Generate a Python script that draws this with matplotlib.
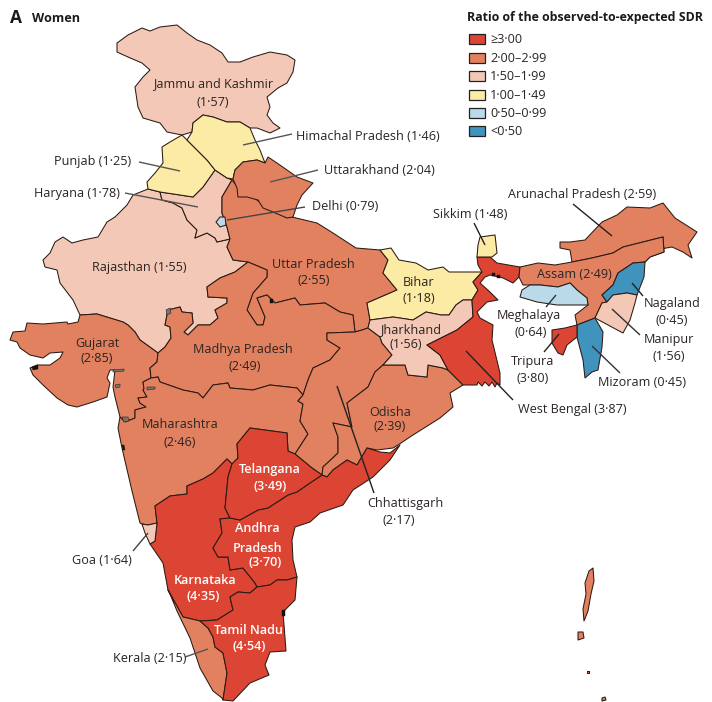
import matplotlib
matplotlib.use("Agg")
import matplotlib.pyplot as plt
from matplotlib.patches import Rectangle

plt.rcParams['font.family'] = ['Open Sans', 'DejaVu Sans']

# ---------- data ----------
legend_labels = ["≥3·00", "2·00–2·99", "1·50–1·99", "1·00–1·49", "0·50–0·99", "<0·50"]
legend_colors = ["#DC4433", "#E28160", "#F4C8B6", "#FBEBA4", "#BADAE9", "#3F93BD"]
thresholds = [3.0, 2.0, 1.5, 1.0, 0.5, 0.0]

values = {
    "Jammu and Kashmir": 1.57, "Himachal Pradesh": 1.46, "Punjab": 1.25, "Haryana": 1.78,
    "Rajasthan": 1.55, "Uttar Pradesh": 2.55, "Uttarakhand": 2.04, "Delhi": 0.79,
    "Gujarat": 2.85, "Madhya Pradesh": 2.49, "Maharashtra": 2.46, "Chhattisgarh": 2.17,
    "Odisha": 2.39, "Bihar": 1.18, "Jharkhand": 1.56, "West Bengal": 3.87, "Sikkim": 1.48,
    "Arunachal Pradesh": 2.59, "Assam": 2.49, "Meghalaya": 0.64, "Nagaland": 0.45,
    "Manipur": 1.56, "Mizoram": 0.45, "Tripura": 3.80, "Telangana": 3.49,
    "Andhra Pradesh": 3.70, "Karnataka": 4.35, "Tamil Nadu": 4.54, "Kerala": 2.15, "Goa": 1.64,
    "Andaman": 2.10,
}

jk = [(142,28),(150,31),(160,27),(177,25),(187,33),(197,40),(210,45),(222,53),(228,62),(240,62),(253,57),(270,52),(287,55),(295,60),(293,72),(287,83),(278,88),(267,97),(270,107),(267,115),(273,123),(280,128),(270,133),(257,128),(250,128),(240,122),(227,122),(213,117),(203,115),(193,123),(192,132),(182,135),(167,132),(160,123),(143,118),(138,107),(135,87),(143,77),(150,70),(142,63),(128,57),(117,52),(117,43),(128,35)]
hp = [(192,132),(187,140),(197,150),(207,160),(215,170),(227,178),(233,179),(235,170),(243,162),(257,160),(265,163),(260,150),(255,140),(250,128),(240,122),(227,122),(213,117),(203,115),(193,123)]
punjab = [(182,135),(170,142),(162,147),(163,163),(155,173),(147,182),(148,189),(160,192),(180,195),(193,197),(203,187),(215,170),(207,160),(197,150),(187,140)]
haryana = [(160,192),(162,200),(173,203),(182,208),(187,220),(197,230),(195,238),(207,233),(215,238),(217,242),(230,239),(227,227),(222,213),(222,197),(232,180),(227,178),(215,170),(203,187),(193,197),(180,195)]
delhi = [(216,222),(220,217),(225,217),(226,225),(220,227)]
rajasthan = [(133,195),(127,205),(115,217),(107,222),(98,237),(83,240),(72,243),(63,237),(55,242),(50,253),(43,260),(45,267),(57,270),(60,283),(73,300),(80,315),(97,314),(110,318),(123,322),(128,325),(135,332),(140,340),(147,345),(158,353),(165,347),(171,338),(170,327),(165,325),(168,310),(180,307),(182,312),(192,313),(193,323),(184,332),(188,335),(198,325),(210,325),(218,318),(215,310),(227,303),(227,298),(208,297),(207,287),(220,278),(235,272),(248,262),(233,260),(227,247),(230,239),(217,242),(215,238),(207,233),(195,238),(197,230),(187,220),(182,208),(173,203),(162,200),(160,192),(148,189)]
gujarat = [(10,340),(13,332),(25,331),(27,323),(43,324),(55,323),(67,322),(68,324),(78,322),(80,315),(97,314),(110,318),(123,322),(128,325),(135,332),(140,340),(147,345),(158,353),(157,362),(150,368),(151,378),(143,382),(144,389),(143,390),(147,397),(138,398),(140,403),(146,407),(135,410),(135,418),(125,422),(120,417),(115,397),(113,387),(115,370),(110,370),(107,378),(110,383),(107,397),(93,402),(77,407),(68,405),(57,398),(43,385),(33,375),(30,368),(37,365),(50,365),(60,358),(63,352),(50,353),(43,358),(30,355),(20,348),(17,342)]
mp = [(158,353),(165,347),(171,338),(170,327),(165,325),(168,310),(180,307),(182,312),(192,313),(193,323),(184,332),(188,335),(198,325),(210,325),(218,318),(215,310),(227,303),(227,298),(208,297),(207,287),(220,278),(235,272),(248,262),(267,270),(267,277),(253,293),(247,310),(257,325),(263,325),(265,317),(257,298),(267,295),(275,303),(295,298),(300,305),(325,303),(340,312),(353,315),(355,332),(327,333),(327,340),(340,348),(330,360),(313,368),(308,380),(303,395),(297,388),(270,385),(253,390),(230,388),(228,383),(213,385),(203,398),(198,393),(183,390),(160,382),(158,377),(151,378),(150,368),(157,362)]
maharashtra = [(120,417),(118,428),(122,448),(132,491),(140,523),(142,524),(148,525),(157,523),(155,506),(170,496),(187,494),(187,486),(203,479),(213,473),(227,459),(232,464),(238,458),(237,444),(250,428),(287,433),(288,451),(295,454),(297,451),(308,434),(300,421),(303,404),(298,401),(303,395),(297,388),(270,385),(253,390),(230,388),(228,383),(213,385),(203,398),(198,393),(183,390),(160,382),(158,377),(151,378),(143,382),(144,389),(143,390),(147,397),(138,398),(140,403),(146,407),(135,410),(135,418),(125,422)]
telangana = [(250,428),(287,433),(288,451),(295,454),(312,468),(322,475),(307,485),(297,492),(288,495),(268,508),(258,510),(240,520),(230,518),(225,508),(228,477),(232,464),(238,458),(237,444)]
karnataka = [(227,459),(213,473),(203,479),(187,486),(187,494),(170,496),(155,506),(157,523),(155,541),(150,544),(163,563),(168,590),(183,617),(200,621),(217,620),(233,610),(230,597),(238,592),(250,593),(257,587),(255,583),(243,568),(230,570),(228,557),(218,557),(213,548),(222,533),(220,519),(230,518),(225,508),(228,477),(232,464)]
ap = [(220,519),(230,518),(240,520),(258,510),(268,508),(288,495),(297,492),(307,485),(322,475),(327,477),(333,470),(347,460),(357,465),(367,448),(380,452),(390,453),(400,445),(390,460),(373,477),(353,490),(343,505),(320,513),(310,522),(295,527),(292,540),(293,560),(297,577),(287,580),(277,580),(270,585),(257,587),(255,583),(243,568),(230,570),(228,557),(218,557),(213,548),(222,533)]
tamil = [(297,577),(295,600),(283,612),(285,638),(286,651),(270,652),(265,665),(269,675),(250,683),(233,701),(223,700),(227,673),(223,653),(215,647),(213,637),(208,628),(200,621),(217,620),(233,610),(230,597),(238,592),(250,593),(257,587),(270,585),(277,580),(287,580)]
kerala = [(168,590),(183,617),(200,621),(208,628),(213,637),(215,647),(223,653),(227,673),(223,700),(222,698),(213,691),(200,668),(190,638),(177,611),(170,594)]
goa = [(142,524),(148,525),(157,523),(155,541),(150,544),(145,533)]
up = [(232,180),(222,197),(222,213),(227,227),(230,239),(227,247),(233,260),(248,262),(267,270),(267,277),(253,293),(247,310),(257,325),(263,325),(265,317),(257,298),(267,295),(275,303),(295,298),(300,305),(325,303),(340,312),(353,315),(355,332),(362,330),(368,328),(370,320),(367,303),(397,290),(383,273),(388,260),(380,250),(356,248),(333,233),(317,223),(292,217),(267,208),(257,200),(240,190)]
uttarakhand = [(235,170),(243,162),(257,160),(265,163),(268,157),(277,163),(287,170),(297,177),(313,183),(302,195),(297,205),(293,217),(287,218),(273,212),(263,208),(258,200),(247,197),(238,197),(237,188),(233,179)]
bihar = [(380,250),(391,248),(399,260),(416,263),(428,270),(443,267),(449,272),(482,272),(473,282),(478,290),(472,300),(463,300),(456,305),(449,315),(441,315),(426,312),(413,320),(393,317),(370,320),(367,303),(397,290),(383,273),(388,260)]
jharkhand = [(370,320),(393,317),(413,320),(426,312),(441,315),(449,315),(456,305),(463,300),(472,300),(473,317),(457,330),(437,340),(427,345),(440,355),(448,370),(443,368),(428,365),(427,377),(408,375),(405,365),(383,365),(392,355),(382,343),(380,337),(368,328)]
west_bengal = [(477,257),(490,257),(497,263),(520,267),(519,277),(513,283),(503,278),(490,275),(485,277),(480,283),(490,292),(498,300),(487,302),(477,312),(480,318),(493,325),(492,340),(500,373),(500,385),(497,383),(495,387),(492,382),(489,386),(485,382),(482,386),(478,382),(477,385),(463,385),(448,370),(440,355),(427,345),(437,340),(457,330),(473,317),(472,300),(478,290),(473,282),(482,272),(478,265)]
sikkim = [(478,245),(480,237),(495,235),(497,253),(492,257),(477,257)]
odisha = [(383,365),(405,365),(408,375),(427,377),(428,365),(443,368),(448,370),(463,385),(450,393),(453,407),(440,418),(413,435),(398,445),(393,448),(377,450),(367,448),(357,465),(347,460),(333,470),(327,477),(322,475),(323,467),(338,453),(338,437),(333,423),(352,427),(347,403),(368,387),(375,372)]
chhattisgarh = [(355,332),(362,330),(368,328),(380,337),(382,343),(392,355),(383,365),(375,372),(368,387),(347,403),(352,427),(333,423),(338,437),(338,453),(323,467),(322,475),(312,468),(295,454),(297,451),(308,434),(300,421),(303,404),(298,401),(303,395),(308,380),(313,368),(330,360),(340,348),(327,340),(327,333)]
arunachal = [(560,242),(570,242),(585,240),(602,222),(617,215),(627,207),(650,208),(663,203),(675,218),(697,232),(688,245),(692,258),(683,252),(672,247),(655,250),(645,262),(650,257),(664,252),(663,237),(643,242),(623,247),(613,253),(592,258),(572,262),(570,250),(560,248)]
assam = [(520,267),(538,263),(555,265),(572,262),(592,258),(613,253),(623,247),(643,242),(663,237),(664,252),(650,257),(645,262),(633,263),(618,273),(613,285),(602,295),(607,302),(602,303),(595,318),(577,325),(575,315),(588,305),(587,298),(577,290),(570,283),(558,287),(540,285),(523,285),(519,277)]
meghalaya = [(520,297),(522,290),(530,285),(540,285),(558,287),(570,283),(577,290),(587,298),(588,305),(582,305),(557,305),(537,302)]
nagaland = [(602,295),(613,285),(618,273),(633,263),(645,262),(644,277),(637,295),(627,293),(613,295),(607,302)]
manipur = [(607,302),(613,295),(627,293),(637,295),(635,303),(630,320),(623,333),(595,318),(602,303)]
mizoram = [(577,325),(595,318),(603,332),(602,347),(598,370),(592,372),(585,378),(583,360),(577,337)]
tripura = [(577,325),(577,337),(567,345),(563,355),(558,353),(552,343),(552,330),(565,328)]
andaman = [(593,568),(594,581),(591,594),(588,611),(584,621),(583,609),(586,594),(585,583),(589,571)]
little_andaman = [(578,632),(583,632),(584,638),(578,640)]
nicobar_a = [(587,671),(589,671),(589,673),(587,673)]
nicobar_b = [(602,698),(605,697),(606,700),(602,701)]

water_grey = [
    [(113,370),(124,369),(124,371),(113,372)], [(115,385),(120,384),(120,387),(116,388)],
    [(122,417),(128,417),(129,421),(124,422)], [(147,387),(155,387),(155,389),(147,390)],
    [(166,310),(170,308),(171,313),(167,315)],
]
water_black = [
    [(282,610),(285,610),(285,616),(282,616)],
    [(32,367),(38,365),(38,369),(33,370)], [(122,445),(124,445),(125,450),(123,450)],
    [(270,299),(273,299),(273,303),(270,303)], [(497,275),(500,275),(500,278),(497,278)],
    [(492,273),(495,273),(495,276),(492,276)],
]

shapes = [
    ("Rajasthan", rajasthan), ("Jammu and Kashmir", jk), ("Haryana", haryana), ("Punjab", punjab),
    ("Himachal Pradesh", hp), ("Uttar Pradesh", up), ("Uttarakhand", uttarakhand), ("Delhi", delhi),
    ("Gujarat", gujarat), ("Madhya Pradesh", mp), ("Maharashtra", maharashtra), ("Chhattisgarh", chhattisgarh),
    ("Odisha", odisha), ("Bihar", bihar), ("Jharkhand", jharkhand), ("West Bengal", west_bengal),
    ("Sikkim", sikkim), ("Arunachal Pradesh", arunachal), ("Assam", assam), ("Meghalaya", meghalaya),
    ("Nagaland", nagaland), ("Manipur", manipur), ("Mizoram", mizoram), ("Tripura", tripura),
    ("Karnataka", karnataka), ("Andhra Pradesh", ap), ("Telangana", telangana), ("Kerala", kerala),
    ("Tamil Nadu", tamil), ("Goa", goa), ("Andaman", andaman), ("Andaman", little_andaman),
    ("Andaman", nicobar_a), ("Andaman", nicobar_b),
]

dark_labels = [
    ("Jammu and Kashmir", 213, 84, "center"), ("(1·57)", 213, 102, "center"),
    ("Himachal Pradesh (1·46)", 296, 136, "left"), ("Uttarakhand (2·04)", 324, 171, "left"),
    ("Delhi (0·79)", 312, 206, "left"), ("Punjab (1·25)", 93, 161, "center"),
    ("Haryana (1·78)", 77, 194, "center"), ("Rajasthan (1·55)", 139, 267, "center"),
    ("Uttar Pradesh", 313, 265, "center"), ("(2·55)", 314, 280, "center"),
    ("Gujarat", 97, 343, "center"), ("(2·85)", 97, 358, "center"),
    ("Madhya Pradesh", 243, 349, "center"), ("(2·49)", 245, 367, "center"),
    ("Maharashtra", 180, 425, "center"), ("(2·46)", 180, 443, "center"),
    ("Odisha", 390, 412, "center"), ("(2·39)", 390, 427, "center"),
    ("Chhattisgarh", 405, 504, "center"), ("(2·17)", 399, 520, "center"),
    ("Bihar", 419, 283, "center"), ("(1·18)", 419, 298, "center"),
    ("Jharkhand", 411, 330, "center"), ("(1·56)", 406, 345, "center"),
    ("Assam (2·49)", 574, 274, "center"), ("Arunachal Pradesh (2·59)", 582, 195, "center"),
    ("Sikkim (1·48)", 470, 215, "center"), ("Meghalaya", 529, 315, "center"), ("(0·64)", 531, 332, "center"),
    ("Nagaland", 672, 303, "center"), ("(0·45)", 672, 320, "center"),
    ("Manipur", 669, 340, "center"), ("(1·56)", 669, 356, "center"),
    ("Tripura", 533, 362, "center"), ("(3·80)", 533, 378, "center"),
    ("Mizoram (0·45)", 642, 382, "center"), ("West Bengal (3·87)", 572, 410, "center"),
    ("Goa (1·64)", 102, 560, "center"), ("Kerala (2·15)", 150, 658, "center"),
]
white_labels = [
    ("Telangana", 270, 469), ("(3·49)", 270, 487), ("Andhra", 257, 529), ("Pradesh", 258, 548),
    ("(3·70)", 265, 562), ("Karnataka", 205, 580), ("(4·35)", 203, 596), ("Tamil Nadu", 248, 630),
    ("(4·54)", 249, 647),
]
leaders = [
    ((292,243),(134,145),"#555555"), ((318,270),(170,182),"#555555"), ((305,227),(207,220),"#444444"),
    ((139,180),(162,171),"#555555"), ((125,198),(193,207),"#555555"), ((573,612),(204,236),"#222222"),
    ((474,485),(223,245),"#222222"), ((546,556),(307,295),"#333333"), ((643,632),(296,283),"#222222"),
    ((640,612),(335,309),"#333333"), ((620,592),(373,346),"#333333"), ((544,559),(352,334),"#222222"),
    ((513,466),(400,351),"#222222"), ((337,374),(386,493),"#222222"), ((133,148),(551,533),"#444444"),
    ((185,208),(657,649),"#555555"),
]

# ---------- figure ----------
fig = plt.figure(figsize=(7.12, 7.02), dpi=100)
ax = fig.add_axes([0, 0, 1, 1])
ax.set_xlim(0, 712)
ax.set_ylim(702, 0)
ax.axis("off")

def color_for(v):
    for t, c in zip(thresholds, legend_colors):
        if v >= t:
            return c
    return legend_colors[-1]

for name, poly in shapes:
    xs, ys = zip(*poly)
    ax.fill(xs, ys, facecolor=color_for(values[name]), edgecolor="#2b1a14", linewidth=0.75, joinstyle="round", zorder=2)
for poly in water_grey:
    xs, ys = zip(*poly)
    ax.fill(xs, ys, facecolor="#7d7470", edgecolor="#222222", linewidth=0.4, zorder=2.5)
for poly in water_black:
    xs, ys = zip(*poly)
    ax.fill(xs, ys, facecolor="#111111", edgecolor="#111111", linewidth=0.3, zorder=2.5)

for xs, ys, c in leaders:
    ax.plot(xs, ys, color=c, lw=1.0, zorder=3, solid_capstyle="butt")

FS = 9.1
for t, x, y, ha in dark_labels:
    ax.text(x, y, t, ha=ha, va="center", fontsize=FS, color="#2a2422", zorder=4)
for t, x, y in white_labels:
    ax.text(x, y, t, ha="center", va="center", fontsize=FS, color="white", fontweight="semibold", zorder=4)

ax.text(16, 18, "A", ha="center", va="center", fontsize=12.5, fontweight="bold", color="#1a1a1a")
ax.text(32, 19, "Women", ha="left", va="center", fontsize=9.1, fontweight="bold", color="#1a1a1a")
ax.text(467, 18, "Ratio of the observed-to-expected SDR", ha="left", va="center", fontsize=8.95, fontweight="bold", color="#1a1a1a")

legend_y = [39, 58, 76, 95, 113, 131]
for lab, col, y in zip(legend_labels, legend_colors, legend_y):
    ax.add_patch(Rectangle((469, y - 5), 16, 10, facecolor=col, edgecolor="#222222", lw=0.9, zorder=3))
    ax.text(490, y + 0.5, lab, ha="left", va="center", fontsize=FS, color="#2a2422")

fig.savefig("out.png", dpi=100, facecolor="white")
